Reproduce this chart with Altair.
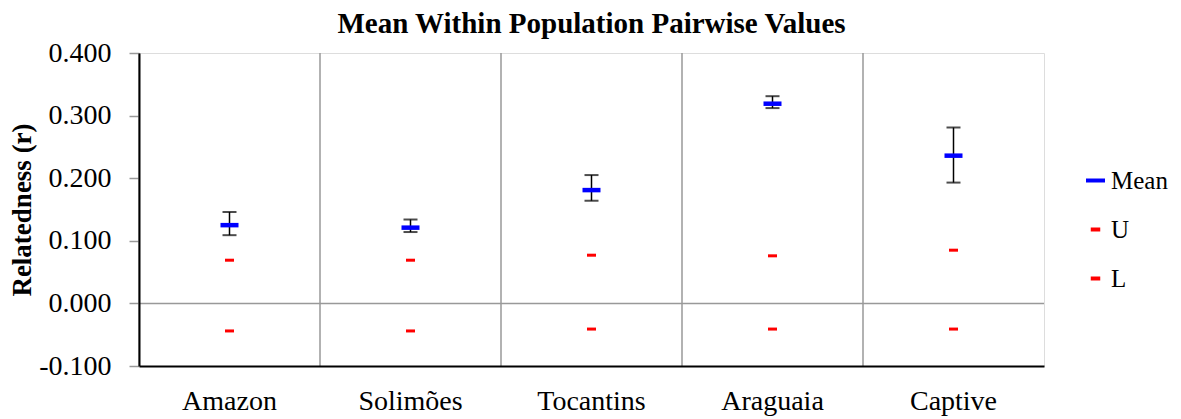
import altair as alt
import pandas as pd

categories = ["Amazon", "Solimões", "Tocantins", "Araguaia", "Captive"]
mean_vals = [0.125, 0.121, 0.181, 0.319, 0.236]
err_high = [0.146, 0.134, 0.205, 0.331, 0.281]
err_low = [0.109, 0.114, 0.164, 0.312, 0.193]
u_vals = [0.069, 0.069, 0.077, 0.076, 0.085]
l_vals = [-0.044, -0.044, -0.041, -0.041, -0.041]
y_ticks = [-0.1, 0.0, 0.1, 0.2, 0.3, 0.4]
zero_line = [0.0]
series_names = ["Mean", "U", "L"]
series_colors = ["#0000FF", "#FF0000", "#FF0000"]
series_shapes = ["M-1,0H1", "M-0.5,0H0.5", "M-0.5,0H0.5"]

FONT = "Liberation Serif"

rows = []
for c, m, u, l in zip(categories, mean_vals, u_vals, l_vals):
    rows.append({"category": c, "series": "Mean", "value": m})
    rows.append({"category": c, "series": "U", "value": u})
    rows.append({"category": c, "series": "L", "value": l})
markers = pd.DataFrame(rows)
errs = pd.DataFrame({"category": categories, "lo": err_low, "hi": err_high})
seps = pd.DataFrame({"category": categories})
zero_df = pd.DataFrame({"value": zero_line})

x_scale = alt.Scale(domain=categories, paddingInner=0, paddingOuter=0)
x_axis = alt.Axis(title=None, labelFont=FONT, labelFontSize=28, labelColor="black",
                  labelAngle=0, ticks=False, grid=False, domainColor="black",
                  domainWidth=2, labelPadding=21, zindex=1)
y_scale = alt.Scale(domain=[-0.1, 0.4], nice=False, zero=False)
y_axis = alt.Axis(title="Relatedness (r)", values=y_ticks, format=".3f", grid=False,
                  labelExpr="replace(datum.label, '\u2212', '-')",
                  labelFont=FONT, labelFontSize=28, labelColor="black", labelPadding=18,
                  tickSize=10, tickColor="#999999", tickWidth=1.5,
                  domainColor="black", domainWidth=2,
                  titleFont=FONT, titleFontSize=27, titleFontWeight="bold",
                  titleColor="black", titlePadding=2, zindex=1)

def xenc(**kw):
    return alt.X("category:N", sort=categories, scale=x_scale, axis=x_axis, **kw)

legend = alt.Legend(title=None, orient="none", legendX=944, legendY=115,
                    labelFont=FONT, labelFontSize=25, labelColor="black", labelLimit=200,
                    symbolSize=361, symbolStrokeWidth=4, rowPadding=23,
                    labelOffset=3, padding=0)
color_enc = alt.Color("series:N", scale=alt.Scale(domain=series_names, range=series_colors),
                      legend=legend)
shape_enc = alt.Shape("series:N", scale=alt.Scale(domain=series_names, range=series_shapes),
                      legend=legend)

sep_layer = alt.Chart(seps).mark_rule(color="#999999", strokeWidth=1.5).encode(
    x=alt.X("category:N", sort=categories, scale=x_scale, axis=x_axis, bandPosition=0)
)
zero_layer = alt.Chart(zero_df).mark_rule(color="#999999", strokeWidth=1.5).encode(
    y=alt.Y("value:Q", scale=y_scale, axis=y_axis)
)
err_rule = alt.Chart(errs).mark_rule(color="black", strokeWidth=1.5).encode(
    x=xenc(),
    y=alt.Y("lo:Q", scale=y_scale, axis=y_axis),
    y2="hi:Q",
)
cap_lo = alt.Chart(errs).mark_tick(color="black", size=14, thickness=2).encode(
    x=xenc(), y=alt.Y("lo:Q", scale=y_scale, axis=y_axis)
)
cap_hi = alt.Chart(errs).mark_tick(color="black", size=14, thickness=2).encode(
    x=xenc(), y=alt.Y("hi:Q", scale=y_scale, axis=y_axis)
)
mean_layer = alt.Chart(markers).transform_filter(alt.datum.series == "Mean").mark_point(
    filled=False, size=324, strokeWidth=4.5, opacity=1
).encode(
    x=xenc(), y=alt.Y("value:Q", scale=y_scale, axis=y_axis),
    color=color_enc, shape=shape_enc,
)
ul_layer = alt.Chart(markers).transform_filter(alt.datum.series != "Mean").mark_point(
    filled=False, size=324, strokeWidth=3, opacity=1
).encode(
    x=xenc(), y=alt.Y("value:Q", scale=y_scale, axis=y_axis),
    color=color_enc, shape=shape_enc,
)

chart = alt.layer(
    sep_layer, zero_layer, err_rule, cap_lo, cap_hi, mean_layer, ul_layer
).properties(
    width=905, height=313,
    padding={"left": 131, "top": 45, "right": 129, "bottom": 52},
    autosize=alt.AutoSizeParams(type="none"),
    title=alt.TitleParams(text="Mean Within Population Pairwise Values", font=FONT,
                          fontSize=29, fontWeight="bold", color="black",
                          anchor="middle", offset=0),
).configure_view(stroke="black", strokeWidth=2).configure(background="white")

chart.save("out.html", embed_options={"renderer": "svg", "actions": False})
